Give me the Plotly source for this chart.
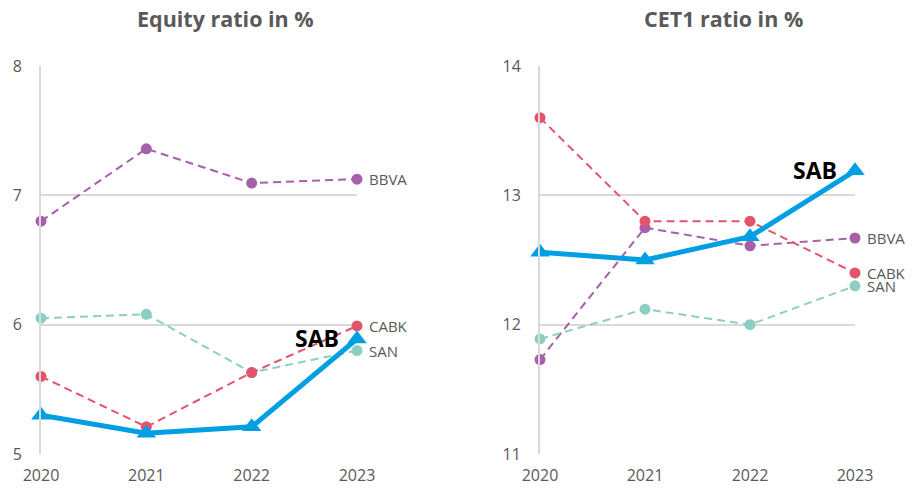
import plotly.graph_objects as go

years = [2020, 2021, 2022, 2023]
series_names = ["BBVA", "SAN", "CABK", "SAB"]

equity_bbva = [6.80, 7.36, 7.095, 7.125]
equity_san = [6.05, 6.08, 5.63, 5.80]
equity_cabk = [5.60, 5.21, 5.63, 5.99]
equity_sab = [5.30, 5.16, 5.21, 5.89]

cet1_bbva = [11.73, 12.75, 12.61, 12.67]
cet1_san = [11.89, 12.12, 12.00, 12.30]
cet1_cabk = [13.60, 12.80, 12.80, 12.40]
cet1_sab = [12.56, 12.50, 12.68, 13.19]

titles = ["Equity ratio in %", "CET1 ratio in %"]
y_ticks_left = [5, 6, 7, 8]
y_ticks_right = [11, 12, 13, 14]

colors = {"BBVA": "#A660AA", "SAN": "#8CCFC2", "CABK": "#E3546C", "SAB": "#009FE3"}
GRAY = "#595959"
GRID = "#D9D9D9"
FONT = "Open Sans"

# page has an 8px body margin; figure sized to fit the 917x488 window
W, H, OFF = 901, 482, 8


def px_x(p):
    return (p - OFF) / W


def px_y(p):
    return 1 - (p - OFF) / H


fig = go.Figure()

panels = [
    ("x", "y", {"BBVA": equity_bbva, "SAN": equity_san, "CABK": equity_cabk, "SAB": equity_sab}),
    ("x2", "y2", {"BBVA": cet1_bbva, "SAN": cet1_san, "CABK": cet1_cabk, "SAB": cet1_sab}),
]

for xa, ya, data in panels:
    for name in series_names:
        vals = data[name]
        if name == "SAB":
            fig.add_trace(go.Scatter(
                x=years, y=vals, xaxis=xa, yaxis=ya, mode="lines+markers",
                line=dict(color=colors[name], width=5),
                marker=dict(symbol="triangle-up", size=17, color=colors[name]),
                cliponaxis=False, showlegend=False, hoverinfo="x+y+name", name=name))
        else:
            fig.add_trace(go.Scatter(
                x=years, y=vals, xaxis=xa, yaxis=ya, mode="lines+markers",
                line=dict(color=colors[name], width=2, dash="8px,5px"),
                marker=dict(symbol="circle", size=11, color=colors[name]),
                cliponaxis=False, showlegend=False, hoverinfo="x+y+name", name=name))
        # end labels
        if name == "SAB":
            fig.add_annotation(x=years[-1], y=vals[-1], xref=xa, yref=ya, text="<b>SAB</b>",
                               showarrow=False, xanchor="right", yanchor="middle",
                               xshift=-16, yshift=1,
                               font=dict(family=FONT, size=23, color="#000000"))
        else:
            fig.add_annotation(x=years[-1], y=vals[-1], xref=xa, yref=ya, text=name,
                               showarrow=False, xanchor="left", yanchor="middle",
                               xshift=10, font=dict(family=FONT, size=15, color=GRAY))

# titles
fig.add_annotation(x=px_x(225), y=px_y(18), xref="paper", yref="paper", text="<b>" + titles[0] + "</b>",
                   showarrow=False, xanchor="center", yanchor="middle",
                   font=dict(family=FONT, size=21.5, color=GRAY))
fig.add_annotation(x=px_x(723), y=px_y(18), xref="paper", yref="paper", text="<b>" + titles[1] + "</b>",
                   showarrow=False, xanchor="center", yanchor="middle",
                   font=dict(family=FONT, size=21.5, color=GRAY))

xcommon = dict(range=[2020, 2023], tickvals=years, ticktext=[str(y) for y in years],
               showgrid=False, zeroline=False, showline=False, ticks="", automargin=False,
               ticklabelstandoff=10, tickfont=dict(family=FONT, size=16, color=GRAY),
               fixedrange=True)
ycommon = dict(showgrid=True, gridcolor=GRID, gridwidth=2, zeroline=False, automargin=False,
               showline=True, linecolor=GRID, linewidth=2, ticks="",
               ticklabelstandoff=14, tickfont=dict(family=FONT, size=16, color=GRAY),
               fixedrange=True)

ydom = [px_y(454), px_y(66)]
fig.update_layout(
    width=W, height=H,
    margin=dict(l=0, r=0, t=0, b=0),
    paper_bgcolor="white", plot_bgcolor="white",
    font=dict(family=FONT, color=GRAY),
    xaxis=dict(domain=[px_x(41), px_x(357)], anchor="y", **xcommon),
    yaxis=dict(domain=ydom, anchor="x", range=[5, 8], tickvals=y_ticks_left, **ycommon),
    xaxis2=dict(domain=[px_x(540), px_x(855)], anchor="y2", **xcommon),
    yaxis2=dict(domain=ydom, anchor="x2", range=[11, 14], tickvals=y_ticks_right, **ycommon),
)

fig.write_html("out.html")
